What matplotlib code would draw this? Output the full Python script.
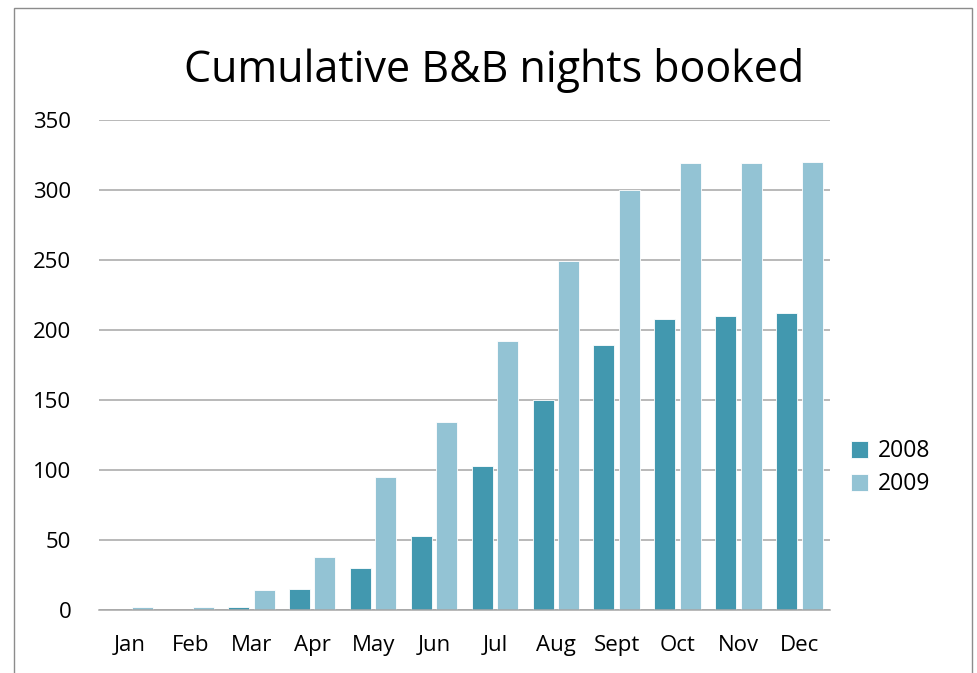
import numpy as np
import matplotlib
matplotlib.use("Agg")
import matplotlib.pyplot as plt
from matplotlib.patches import Rectangle

plt.rcParams['font.family'] = ['Open Sans', 'DejaVu Sans']

months = ["Jan", "Feb", "Mar", "Apr", "May", "Jun", "Jul", "Aug",
          "Sept", "Oct", "Nov", "Dec"]
nights_2008 = [0, 0, 2, 15, 30, 53, 103, 150, 189, 208, 210, 212]
nights_2009 = [2, 2, 14, 38, 95, 134, 192, 249, 300, 319, 319, 320]

C2008 = "#4298af"
C2009 = "#93c3d4"

fig = plt.figure(figsize=(9.77, 6.73), dpi=100)
ax = fig.add_axes([0.1013, 0.0936, 0.7482, 0.7281])

x = np.arange(len(months))
w = 0.345
ax.bar(x - 0.21, nights_2008, w, color=C2008, edgecolor="white",
       linewidth=0.6, label="2008", zorder=3)
ax.bar(x + 0.21, nights_2009, w, color=C2009, edgecolor="white",
       linewidth=0.6, label="2009", zorder=3)

ax.set_xlim(-0.5, len(months) - 0.5)
ax.set_ylim(0, 350)
ax.set_yticks(np.arange(0, 351, 50))
ax.set_xticks(x)
ax.set_xticklabels(months)
ax.yaxis.grid(True, color="#a6a6a6", linewidth=1.1, zorder=0)
for s in ["left", "right", "top"]:
    ax.spines[s].set_visible(False)
ax.spines["bottom"].set_color("#a6a6a6")
ax.spines["bottom"].set_linewidth(1.1)
ax.spines["bottom"].set_zorder(4)
ax.tick_params(axis="both", length=0, labelsize=16, colors="black")
ax.tick_params(axis="y", pad=20)
ax.tick_params(axis="x", pad=18)

ax.set_title("Cumulative B&B nights booked", fontsize=31, pad=27, x=0.54)

leg = ax.legend(loc="center left", bbox_to_anchor=(1.0, 0.29), frameon=False,
                fontsize=16.5, handlelength=0.75, handleheight=0.75,
                handletextpad=0.45, labelspacing=0.4)

# outer chart border
fig.patches.append(Rectangle((14 / 977, -0.01), (972 - 14) / 977, 1 - 8 / 673 + 0.01,
                             transform=fig.transFigure, fill=False,
                             edgecolor="#8c8c8c", linewidth=1.0))

fig.savefig("out.png", dpi=100)
